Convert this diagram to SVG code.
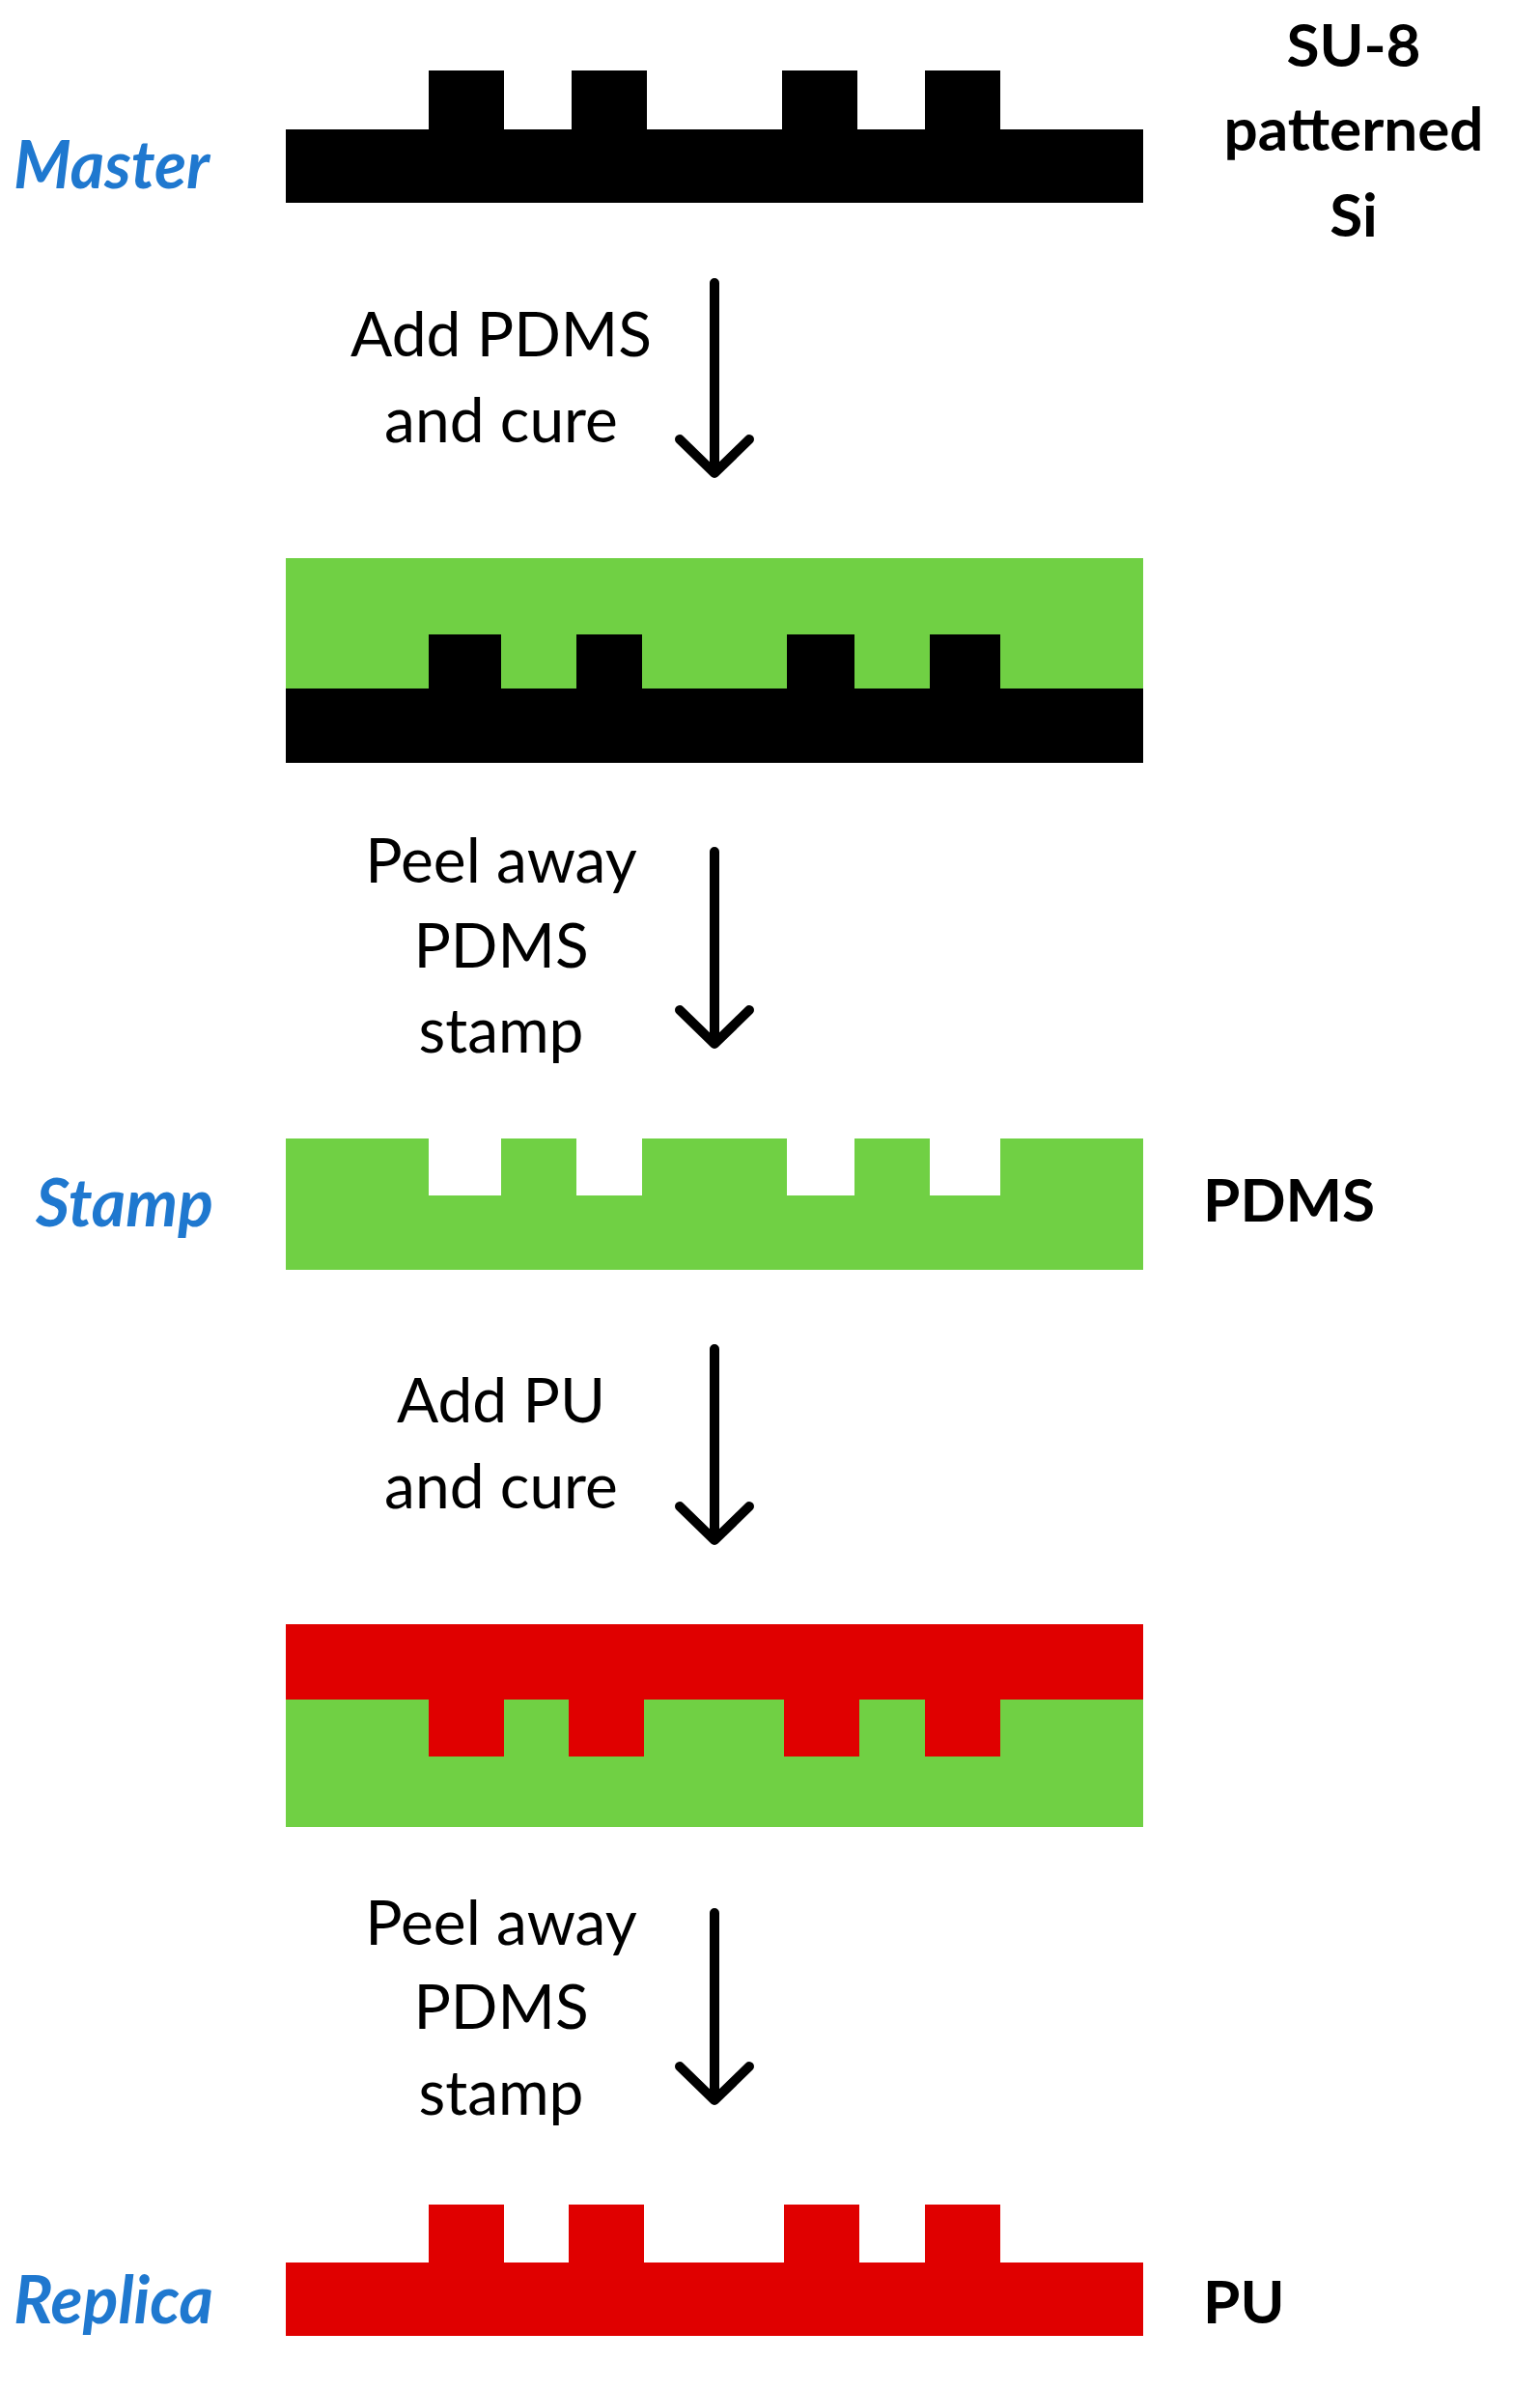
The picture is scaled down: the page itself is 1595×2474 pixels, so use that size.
<svg xmlns="http://www.w3.org/2000/svg" width="1595" height="2474" viewBox="0 0 1595 2474">
<style>
.k{fill:#000}.g{fill:#70D044}.r{fill:#E00000}.w{fill:#fff}
.lab{font-family:Lato,"Liberation Sans",sans-serif;font-size:64px;fill:#000;text-anchor:middle}
.side{font-family:Lato,"Liberation Sans",sans-serif;font-size:62px;font-weight:bold;fill:#000}
.name{font-family:Lato,"Liberation Sans",sans-serif;font-size:68px;font-weight:bold;font-style:italic;fill:#1F78CF}
.ar{fill:none;stroke:#000;stroke-width:10;stroke-linecap:round;stroke-linejoin:round}
</style>
<rect width="1595" height="2474" fill="#fff"/>
<g id="master">
<rect class="k" x="296" y="134" width="888" height="76"/>
<rect class="k" x="444" y="73" width="78" height="62"/><rect class="k" x="592" y="73" width="78" height="62"/>
<rect class="k" x="810" y="73" width="78" height="62"/><rect class="k" x="958" y="73" width="78" height="62"/>
<text class="name" x="14" y="195">Master</text>
<text class="side" x="1402" y="69" text-anchor="middle">SU-8</text>
<text class="side" x="1402" y="156" text-anchor="middle">patterned</text>
<text class="side" x="1402" y="245" text-anchor="middle">Si</text>
</g>
<g id="step2">
<rect class="g" x="296" y="578" width="888" height="136"/>
<rect class="k" x="296" y="713" width="888" height="77"/>
<rect class="k" x="444" y="657" width="75" height="57"/><rect class="k" x="597" y="657" width="68" height="57"/>
<rect class="k" x="815" y="657" width="70" height="57"/><rect class="k" x="963" y="657" width="73" height="57"/>
</g>
<g id="stamp">
<rect class="g" x="296" y="1179" width="888" height="136"/>
<rect class="w" x="444" y="1179" width="75" height="59"/><rect class="w" x="597" y="1179" width="68" height="59"/>
<rect class="w" x="815" y="1179" width="70" height="59"/><rect class="w" x="963" y="1179" width="73" height="59"/>
<text class="name" x="37" y="1270">Stamp</text>
<text class="side" x="1246" y="1265">PDMS</text>
</g>
<g id="step4">
<rect class="r" x="296" y="1682" width="888" height="79"/>
<rect class="g" x="296" y="1760" width="888" height="132"/>
<rect class="r" x="444" y="1759" width="78" height="60"/><rect class="r" x="589" y="1759" width="78" height="60"/>
<rect class="r" x="812" y="1759" width="78" height="60"/><rect class="r" x="958" y="1759" width="78" height="60"/>
</g>
<g id="replica">
<rect class="r" x="296" y="2343" width="888" height="76"/>
<rect class="r" x="444" y="2283" width="78" height="61"/><rect class="r" x="589" y="2283" width="78" height="61"/>
<rect class="r" x="812" y="2283" width="78" height="61"/><rect class="r" x="958" y="2283" width="78" height="61"/>
<text class="name" x="14" y="2406">Replica</text>
<text class="side" x="1246" y="2406">PU</text>
</g>
<g id="connectors">
<path class="ar" d="M740 293V490M704 455L740 490L776 455"/>
<path class="ar" d="M740 882V1081M704 1046L740 1081L776 1046"/>
<path class="ar" d="M740 1397V1595M704 1560L740 1595L776 1560"/>
<path class="ar" d="M740 1981V2175M704 2140L740 2175L776 2140"/>
<text class="lab" x="519" y="369">Add PDMS</text>
<text class="lab" x="519" y="458">and cure</text>
<text class="lab" x="519" y="914">Peel away</text>
<text class="lab" x="519" y="1002">PDMS</text>
<text class="lab" x="519" y="1090">stamp</text>
<text class="lab" x="519" y="1473">Add PU</text>
<text class="lab" x="519" y="1562">and cure</text>
<text class="lab" x="519" y="2014">Peel away</text>
<text class="lab" x="519" y="2101">PDMS</text>
<text class="lab" x="519" y="2190">stamp</text>
</g>
</svg>
